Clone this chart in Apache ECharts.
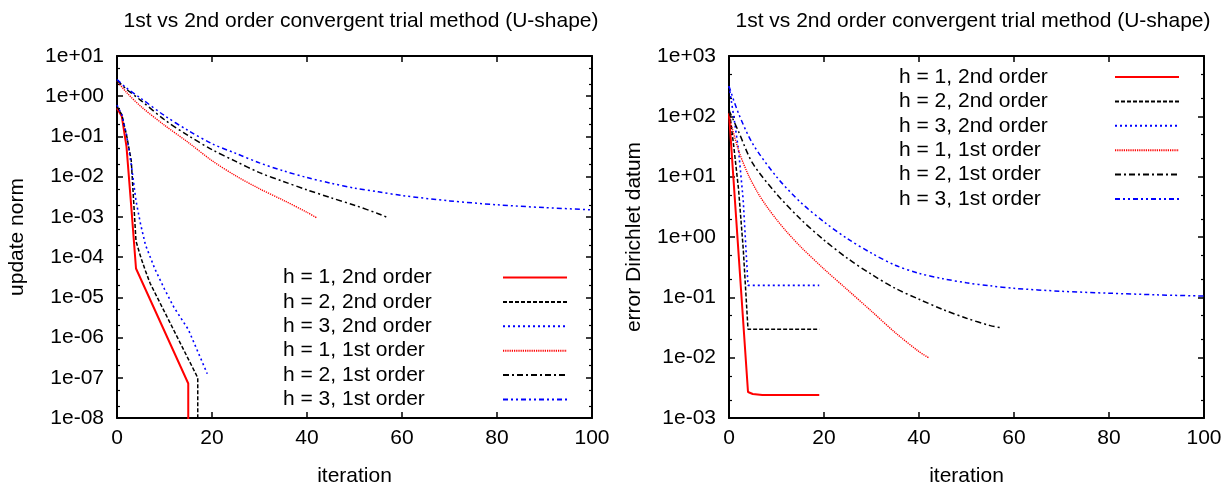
<!DOCTYPE html>
<html lang="en">
<head>
<meta charset="UTF-8">
<title>1st vs 2nd order convergent trial method (U-shape)</title>
<script src="https://cdn.jsdelivr.net/npm/echarts@6/dist/echarts.min.js"></script>
<style>
    body { margin: 0; background: #fff; }
    #main { width: 1231px; height: 493px; }
</style>
</head>
<body>
<div id="main"></div>
<script>
    // ---- left chart: update norm ----
    var itUpd_h1_2nd = [0, 1, 2, 3, 4, 15, 15];
    var upd_h1_2nd = [0.5, 0.32, 0.056, 1.8e-3, 5.2e-5, 7.2e-8, 1e-12];
    var itUpd_h2_2nd = [0, 1, 2, 3, 4, 5, 6, 7, 17, 17];
    var upd_h2_2nd = [0.56, 0.35, 0.11, 0.025, 2.5e-4, 1e-4, 4.5e-5, 2.2e-5, 1e-7, 1e-12];
    var itUpd_h3_2nd = [0, 1, 2, 3, 4, 5, 6, 8, 10, 12, 15, 17, 19];
    var upd_h3_2nd = [0.6, 0.35, 0.11, 0.02, 2.5e-3, 6.3e-4, 2.0e-4, 5.0e-5, 1.6e-5, 5.6e-6, 1.6e-6, 4.5e-7, 1.26e-7];
    var itUpd_h1_1st = [0, 2, 5, 10, 15, 20, 25, 30, 35, 40, 42];
    var upd_h1_1st = [2.4, 1.25, 0.56, 0.19, 0.071, 0.025, 0.0105, 5.0e-3, 2.6e-3, 1.3e-3, 9.5e-4];
    var itUpd_h2_1st = [0, 2, 5, 10, 15, 20, 25, 30, 35, 40, 45, 50, 55, 57];
    var upd_h2_1st = [2.5, 1.5, 0.79, 0.26, 0.105, 0.047, 0.024, 0.0126, 7.6e-3, 4.7e-3, 3.0e-3, 1.95e-3, 1.2e-3, 9.6e-4];
    var itUpd_h3_1st = [0, 2, 5, 10, 15, 20, 25, 30, 35, 40, 45, 50, 55, 60, 70, 80, 90, 100];
    var upd_h3_1st = [2.6, 1.6, 0.89, 0.33, 0.14, 0.066, 0.038, 0.022, 0.014, 9.5e-3, 6.9e-3, 5.2e-3, 4.2e-3, 3.4e-3, 2.5e-3, 2.0e-3, 1.7e-3, 1.5e-3];

    // ---- right chart: error Dirichlet datum ----
    var itErr_h1_2nd = [0, 4, 5, 7, 19];
    var err_h1_2nd = [112, 2.7e-3, 2.5e-3, 2.4e-3, 2.4e-3];
    var itErr_h2_2nd = [0, 1, 2, 3, 4, 19];
    var err_h2_2nd = [141, 32, 6.3, 0.63, 0.0295, 0.0295];
    var itErr_h3_2nd = [0, 1, 2, 3, 4, 19];
    var err_h3_2nd = [316, 100, 28, 4.0, 0.158, 0.158];
    var itErr_h1_1st = [0, 2, 4, 6, 8, 10, 12, 15, 20, 25, 30, 35, 40, 42];
    var err_h1_1st = [100, 27.5, 11.0, 5.5, 3.16, 1.95, 1.26, 0.70, 0.295, 0.132, 0.059, 0.026, 0.0126, 0.01];
    var itErr_h2_1st = [0, 2, 5, 10, 15, 20, 25, 30, 35, 40, 45, 50, 55, 57];
    var err_h2_1st = [126, 56, 16.6, 5.2, 2.0, 0.89, 0.44, 0.24, 0.141, 0.093, 0.063, 0.045, 0.034, 0.0316];
    var itErr_h3_1st = [0, 2, 5, 10, 15, 20, 25, 30, 35, 40, 45, 50, 55, 60, 70, 80, 90, 100];
    var err_h3_1st = [316, 112, 35, 10, 3.8, 1.78, 0.93, 0.54, 0.34, 0.25, 0.204, 0.174, 0.155, 0.141, 0.126, 0.117, 0.11, 0.105];

    // axis ticks
    var updDecades = [1e-8, 1e-7, 1e-6, 1e-5, 1e-4, 1e-3, 1e-2, 1e-1, 1, 10];
    var errDecades = [1e-3, 1e-2, 1e-1, 1, 10, 100, 1000];

    var names = ['h = 1, 2nd order', 'h = 2, 2nd order', 'h = 3, 2nd order',
                 'h = 1, 1st order', 'h = 2, 1st order', 'h = 3, 1st order'];

    var FONT = 'Liberation Sans, Arial, Helvetica, sans-serif';
    var FS = 21;

    var styles = [
        { color: '#ff0000', width: 2, type: 'solid' },
        { color: '#000000', width: 1.5, type: [4, 2] },
        { color: '#0000ff', width: 1.6, type: [2, 3] },
        { color: '#ff0000', width: 1.4, type: [1.2, 1] },
        { color: '#000000', width: 1.5, type: [6, 3, 2, 3] },
        { color: '#0000ff', width: 1.5, type: [5, 3, 2, 3, 2, 3] }
    ];

    function minorOf(decades) {
        var out = [];
        for (var i = 0; i < decades.length - 1; i++) {
            out.push(decades[i] * 2, decades[i] * 5);
        }
        return out;
    }

    function fmtExp(v) {
        var e = Math.round(Math.log10(v));
        var a = Math.abs(e);
        return '1e' + (e < 0 ? '-' : '+') + (a < 10 ? '0' : '') + a;
    }

    function pairs(xs, ys) {
        return xs.map(function (x, i) { return [x, ys[i]]; });
    }

    var grids = [
        { left: 117, top: 56, width: 475, height: 362, outerBoundsMode: 'none' },
        { left: 729, top: 56, width: 475, height: 362, outerBoundsMode: 'none' }
    ];

    var xAxes = [], yAxes = [];
    [0, 1].forEach(function (g) {
        var decades = g === 0 ? updDecades : errDecades;
        var ymin = decades[0], ymax = decades[decades.length - 1];
        var axLine = { show: true, lineStyle: { color: '#000', width: 2 } };
        // bottom (main) x
        xAxes.push({
            gridIndex: g, type: 'value', position: 'bottom', min: 0, max: 100, interval: 20,
            name: 'iteration', nameLocation: 'middle', nameGap: 48,
            nameTextStyle: { fontFamily: FONT, fontSize: FS, color: '#000' },
            axisLine: axLine, splitLine: { show: false },
            axisTick: { inside: true, length: 6, lineStyle: { color: '#000', width: 1.5 } },
            axisLabel: { margin: 10, fontFamily: FONT, fontSize: FS, color: '#000' }
        });
        // top mirror x
        xAxes.push({
            gridIndex: g, type: 'value', position: 'top', min: 0, max: 100, interval: 20,
            axisLine: axLine, splitLine: { show: false },
            axisTick: { inside: true, length: 6, lineStyle: { color: '#000', width: 1.5 } },
            axisLabel: { show: false }
        });
        // left main y
        yAxes.push({
            gridIndex: g, type: 'log', logBase: 10, position: 'left', min: ymin, max: ymax,
            name: g === 0 ? 'update norm' : 'error Dirichlet datum',
            nameLocation: 'middle', nameRotate: 90, nameGap: g === 0 ? 89 : 84,
            nameTextStyle: { fontFamily: FONT, fontSize: FS, color: '#000' },
            axisLine: axLine, splitLine: { show: false }, minorTick: { show: false },
            axisTick: { inside: true, length: 6, customValues: decades, lineStyle: { color: '#000', width: 1.5 } },
            axisLabel: { margin: 13, customValues: decades, formatter: fmtExp, fontFamily: FONT, fontSize: FS, color: '#000' }
        });
        // left minor ticks
        yAxes.push({
            gridIndex: g, type: 'log', logBase: 10, position: 'left', min: ymin, max: ymax,
            axisLine: { show: false }, splitLine: { show: false },
            axisTick: { inside: true, length: 3, customValues: minorOf(decades), lineStyle: { color: '#000', width: 1.2 } },
            axisLabel: { show: false }
        });
        // right mirror
        yAxes.push({
            gridIndex: g, type: 'log', logBase: 10, position: 'right', min: ymin, max: ymax,
            axisLine: axLine, splitLine: { show: false },
            axisTick: { inside: true, length: 6, customValues: decades, lineStyle: { color: '#000', width: 1.5 } },
            axisLabel: { show: false }
        });
        yAxes.push({
            gridIndex: g, type: 'log', logBase: 10, position: 'right', min: ymin, max: ymax,
            axisLine: { show: false }, splitLine: { show: false },
            axisTick: { inside: true, length: 3, customValues: minorOf(decades), lineStyle: { color: '#000', width: 1.2 } },
            axisLabel: { show: false }
        });
    });

    var updData = [
        pairs(itUpd_h1_2nd, upd_h1_2nd), pairs(itUpd_h2_2nd, upd_h2_2nd), pairs(itUpd_h3_2nd, upd_h3_2nd),
        pairs(itUpd_h1_1st, upd_h1_1st), pairs(itUpd_h2_1st, upd_h2_1st), pairs(itUpd_h3_1st, upd_h3_1st)
    ];
    var errData = [
        pairs(itErr_h1_2nd, err_h1_2nd), pairs(itErr_h2_2nd, err_h2_2nd), pairs(itErr_h3_2nd, err_h3_2nd),
        pairs(itErr_h1_1st, err_h1_1st), pairs(itErr_h2_1st, err_h2_1st), pairs(itErr_h3_1st, err_h3_1st)
    ];

    var series = [];
    [updData, errData].forEach(function (set, g) {
        set.forEach(function (d, i) {
            series.push({
                name: names[i], type: 'line', data: d,
                xAxisIndex: g * 2, yAxisIndex: g * 4,
                symbol: 'none', clip: true, animation: false,
                smooth: i >= 3 ? 0.3 : false,
                lineStyle: styles[i], itemStyle: { color: styles[i].color },
                emphasis: { disabled: true }
            });
        });
    });

    function legendAt(left, top, w) {
        return {
            orient: 'vertical', left: left, top: top, align: 'right',
            itemWidth: 64, itemHeight: 2, itemGap: 3.4, padding: 0,
            selectedMode: false, data: names,
            itemStyle: { opacity: 0 },
            formatter: '{a|{name}}',
            textStyle: {
                color: '#000', fontFamily: FONT, fontSize: FS,
                rich: { a: { width: w, align: 'left', fontFamily: FONT, fontSize: FS, color: '#000' } }
            }
        };
    }

    var myChart = echarts.init(document.getElementById('main'));
    myChart.setOption({
        backgroundColor: '#fff',
        animation: false,
        title: [
            { text: '1st vs 2nd order convergent trial method (U-shape)', left: 356, top: 6, textAlign: 'center',
              textStyle: { fontFamily: FONT, fontSize: FS, fontWeight: 'normal', color: '#000' } },
            { text: '1st vs 2nd order convergent trial method (U-shape)', left: 968, top: 6, textAlign: 'center',
              textStyle: { fontFamily: FONT, fontSize: FS, fontWeight: 'normal', color: '#000' } }
        ],
        legend: [legendAt(283, 267, 215), legendAt(899, 66.5, 211)],
        grid: grids,
        xAxis: xAxes,
        yAxis: yAxes,
        series: series
    });
</script>
</body>
</html>
